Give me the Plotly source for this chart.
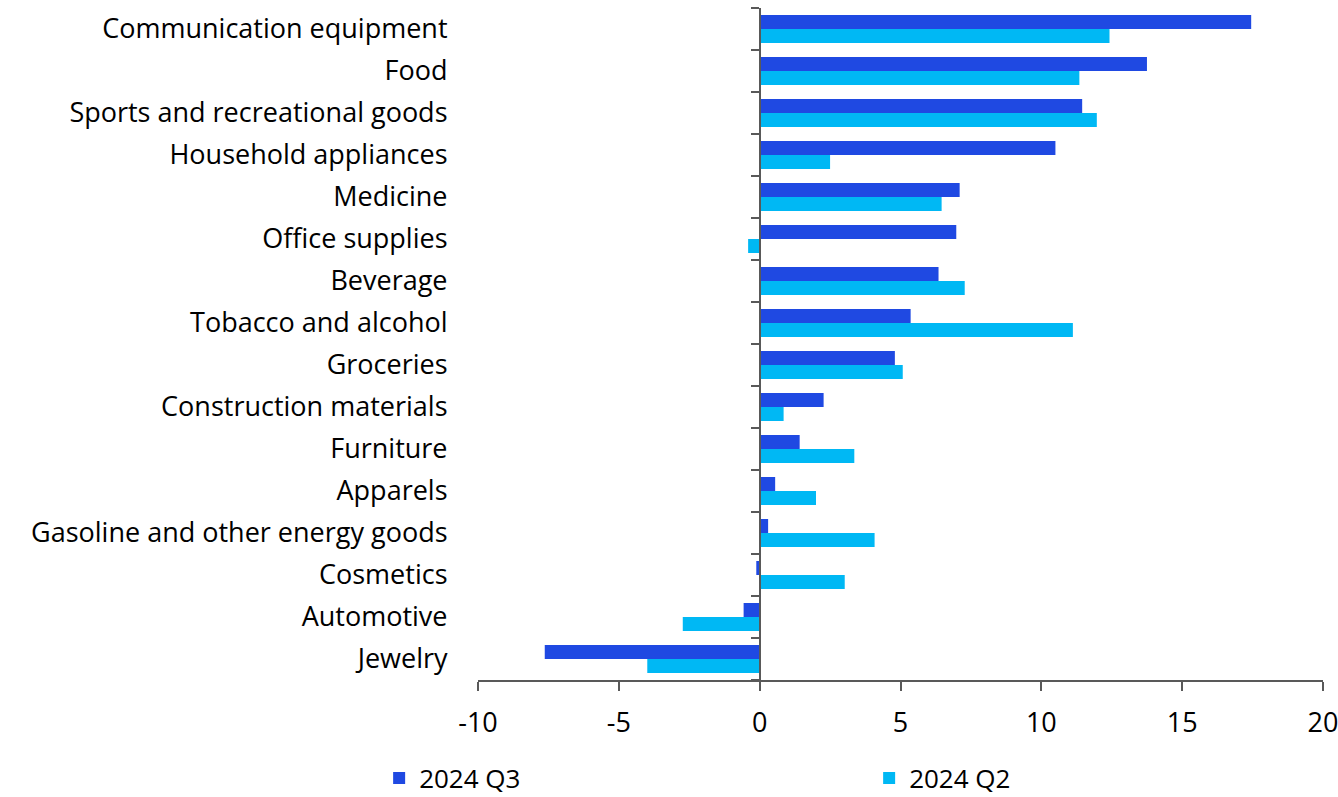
import plotly.graph_objects as go

# Retail sales growth by category, % (listed top to bottom)
categories = [
    "Communication equipment", "Food", "Sports and recreational goods",
    "Household appliances", "Medicine", "Office supplies", "Beverage",
    "Tobacco and alcohol", "Groceries", "Construction materials", "Furniture",
    "Apparels", "Gasoline and other energy goods", "Cosmetics", "Automotive",
    "Jewelry",
]
q3_2024 = [17.45, 13.75, 11.45, 10.5, 7.1, 6.98, 6.35, 5.36, 4.8, 2.27,
           1.42, 0.55, 0.3, -0.12, -0.57, -7.63]
q2_2024 = [12.42, 11.35, 11.97, 2.5, 6.46, -0.41, 7.28, 11.12, 5.08, 0.85,
           3.36, 2.0, 4.08, 3.02, -2.73, -3.99]

x_ticks = [-10, -5, 0, 5, 10, 15, 20]

FONT = "Open Sans"
AXIS_GRAY = "#595959"

W, H = 1338, 797
ML, MR, MT, MB = 478, 15, 8, 117

fig = go.Figure()
# Q2 first so it sits below Q3 within each category group
fig.add_trace(go.Bar(
    name="2024 Q2", y=categories, x=q2_2024, orientation="h",
    marker=dict(color="#00B8F4", line=dict(width=0)), legendrank=2,
))
fig.add_trace(go.Bar(
    name="2024 Q3", y=categories, x=q3_2024, orientation="h",
    marker=dict(color="#1F49E2", line=dict(width=0)), legendrank=1,
))

fig.update_layout(
    width=W, height=H,
    margin=dict(l=ML, r=MR, t=MT, b=MB, autoexpand=False),
    paper_bgcolor="white", plot_bgcolor="white",
    font=dict(family=FONT, size=27, color="#000000"),
    barmode="group", bargap=0.333, bargroupgap=0,
    showlegend=True,
    legend=dict(
        orientation="h", x=-0.117, xanchor="left", y=-0.146, yanchor="middle",
        entrywidth=445, entrywidthmode="pixels",
        font=dict(family=FONT, size=26, color="#000000"),
        bgcolor="rgba(0,0,0,0)",
    ),
    xaxis=dict(
        range=[-10, 20], tickvals=x_ticks, ticktext=[str(v) for v in x_ticks],
        showgrid=False, zeroline=False,
        showline=True, linecolor=AXIS_GRAY, linewidth=1.5,
        ticks="outside", ticklen=9, tickwidth=1.5, tickcolor=AXIS_GRAY,
        ticklabelstandoff=9, ticklabeloverflow="allow",
        fixedrange=True,
    ),
    yaxis=dict(
        type="category", categoryorder="array", categoryarray=categories[::-1],
        range=[-0.5, len(categories) - 0.5],
        anchor="free", position=1 / 3, side="left",
        showgrid=False, zeroline=False,
        showline=True, linecolor=AXIS_GRAY, linewidth=1.5,
        ticks="outside", tickson="boundaries", ticklen=8, tickwidth=1.5,
        tickcolor=AXIS_GRAY,
        ticklabelstandoff=306,
        fixedrange=True,
    ),
)

fig.write_html("out.html")
